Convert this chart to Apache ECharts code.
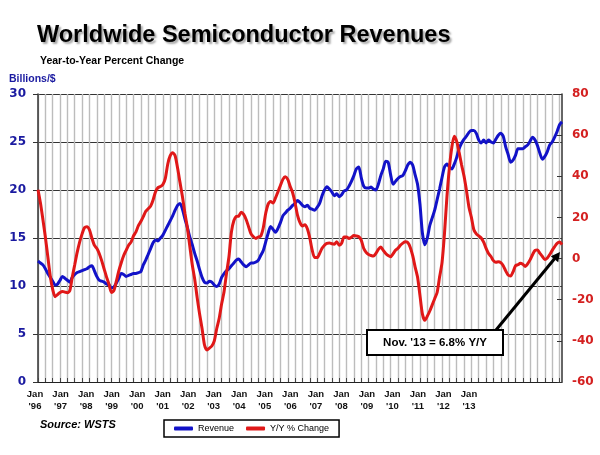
<!DOCTYPE html>
<html>
<head>
<meta charset="utf-8">
<script src="https://cdn.jsdelivr.net/npm/echarts@6/dist/echarts.min.js"></script>
<style>
html,body{margin:0;padding:0;background:#fff;}
#c{width:600px;height:455px;}
</style>
</head>
<body>
<div id="c"></div>
<script>
// ---- DATA ----
var startYear = 1996;
var monthCount = 215; // Jan '96 .. Nov '13
var labelYears = ["'96","'97","'98","'99","'00","'01","'02","'03","'04","'05","'06","'07","'08","'09","'10","'11","'12","'13"];

var revenue = [
12.6,12.4,12.2,11.8,11.3,10.9,10.5,10.1,10.2,10.6,11.0,10.8,
10.6,10.4,10.9,11.2,11.4,11.5,11.6,11.7,11.8,12.0,12.1,11.6,
11.0,10.6,10.5,10.4,10.2,10.1,9.8,9.9,10.3,10.8,11.3,11.2,
11.0,11.1,11.2,11.3,11.3,11.4,11.5,12.2,12.7,13.3,13.9,14.5,
14.8,14.7,15.0,15.3,15.8,16.3,16.8,17.3,17.9,18.4,18.6,18.0,
17.0,16.1,15.1,14.3,13.4,12.6,11.7,10.9,10.4,10.3,10.5,10.4,
10.1,9.95,10.2,10.9,11.3,11.6,11.8,12.1,12.4,12.7,12.8,12.5,
12.2,12.0,12.2,12.4,12.4,12.5,12.7,13.2,13.7,14.6,15.5,16.2,
15.9,15.6,16.0,16.6,17.3,17.6,17.9,18.1,18.4,18.6,18.9,18.7,
18.4,18.25,18.4,18.1,18.0,17.9,18.2,18.6,19.4,20.0,20.35,20.1,
19.8,19.4,19.6,19.3,19.5,19.9,20.0,20.4,20.9,21.5,22.2,22.4,
21.3,20.4,20.2,20.2,20.3,20.1,20.0,20.6,21.5,22.2,23.0,22.9,
21.6,20.6,20.9,21.2,21.4,21.5,22.0,22.6,22.9,22.6,21.6,20.6,
18.5,15.5,14.3,15.0,16.3,17.1,17.9,19.0,20.1,21.3,22.4,22.7,
22.4,22.2,22.7,23.4,24.3,24.9,25.3,25.6,26.0,26.2,26.2,25.9,
25.2,24.9,25.2,24.9,25.2,25.0,24.9,25.3,25.7,25.9,25.6,24.5,
23.7,22.9,23.1,23.6,24.3,24.3,24.3,24.5,24.7,25.1,25.5,25.2,
24.6,23.8,23.2,23.5,24.0,24.7,25.0,25.5,26.1,26.8,27.1
];

var yoyChange = [
33.5,27,19,10.5,1,-8.5,-15,-18.5,-17.5,-16.5,-16,-16.3,
-16.6,-15.5,-9,-3,3,8,12,15,15.5,14,10,6.5,
5,2.5,-1,-5,-9,-12.5,-16.5,-15.5,-11,-6,-2,1.5,
4,6.5,8,11,13,16,18,20.4,23,24.2,25.5,28.5,
32.5,34.5,35,36,39,46,50,51.5,50,44,37,30,
22,15,6,-3,-10,-19,-27,-34,-42,-44.4,-43.5,-42.5,
-40,-34,-29,-22,-16,-7,1,13,18.5,20.5,20.7,22.5,
21.5,19,15.5,12,10.6,9.8,10.5,11,15,22,26.5,27.7,
27,29.5,32.5,35.5,38.5,39.8,38.5,35,32,27,21,17.5,
15.8,16.5,14.5,10,4,0.5,0.5,2.5,5,6.5,7.4,7.6,
7.2,7,8.2,6.5,7.5,10.5,10.5,9.8,10.4,11.2,11,10.6,
9.0,5,3,2,1.5,1.2,2.5,4.5,5.6,4,2.5,1.5,
0.9,2.3,4,5,6.5,7.5,8.2,7.8,5.5,1.5,-4,-9,
-18,-27,-30,-28,-25.5,-22.5,-19.5,-16.5,-9,-2,12,30,
44,54,59.5,57,51.5,45.5,40,33,25,20,14,12,
11,10,8,5,2.5,1,-1,-1.8,-1.5,-2,-3.5,-6,
-8,-8.5,-6.5,-3.5,-3,-2.3,-2.8,-3.8,-2.5,-0.5,2,4,
4.2,2.5,1,-0.5,0.3,2,4,5.8,7.4,8.0,6.8
];

var months = [];
for (var i = 0; i < monthCount; i++) {
  var y = startYear + Math.floor(i / 12), m = (i % 12) + 1;
  months.push(y + '-' + (m < 10 ? '0' + m : m));
}

// ---- CHART ----
var BLUE = '#1212c8', RED = '#e01818';
var chart = echarts.init(document.getElementById('c'), null, {renderer: 'canvas'});
var tickFont = {fontFamily: 'DejaVu Sans', fontWeight: 'bold', fontSize: 12};

var option = {
  backgroundColor: '#ffffff',
  animation: false,
  title: [
    {text: 'Worldwide Semiconductor Revenues', left: 32, top: 19,
     textStyle: {fontFamily: 'Liberation Sans', fontWeight: 'bold', fontSize: 23.5, color: '#000',
       textShadowColor: 'rgba(0,0,0,0.35)', textShadowOffsetX: 2, textShadowOffsetY: 2, textShadowBlur: 2}},
    {text: 'Year-to-Year Percent Change', left: 35, top: 51,
     textStyle: {fontFamily: 'Liberation Sans', fontWeight: 'bold', fontSize: 10.5, color: '#000'}},
    {text: 'Billions/$', left: 4, top: 69,
     textStyle: {fontFamily: 'Liberation Sans', fontWeight: 'bold', fontSize: 10.5, color: '#1a1aa0'}},
    {text: 'Source: WSTS', left: 35, top: 414,
     textStyle: {fontFamily: 'Liberation Sans', fontWeight: 'bold', fontStyle: 'italic', fontSize: 11, color: '#000'}}
  ],
  legend: {
    left: 164, top: 420, orient: 'horizontal',
    borderColor: '#000', borderWidth: 1.5, padding: [4, 10], itemGap: 12,
    itemWidth: 19, itemHeight: 4, icon: 'roundRect',
    textStyle: {fontFamily: 'Liberation Sans', fontSize: 9, color: '#000'},
    data: ['Revenue', 'Y/Y % Change']
  },
  grid: [
    {left: 38, right: 38, top: 94, bottom: 73},
    {left: 35, width: 510.6, top: 94, bottom: 73}
  ],
  xAxis: [
    {type: 'category', gridIndex: 0, data: months, boundaryGap: false,
     axisLine: {show: true, lineStyle: {color: '#222', width: 1}},
     axisTick: {show: true, inside: true, length: 4, interval: 2, lineStyle: {color: '#444'}},
     axisLabel: {show: false},
     splitLine: {show: true, interval: 2, lineStyle: {color: '#bcbcbc', width: 1.4}}},
    {type: 'value', gridIndex: 1, min: 0, max: 20, interval: 1,
     axisLine: {show: false}, axisTick: {show: false}, splitLine: {show: false},
     axisLabel: {show: true, margin: 6, color: '#111', fontFamily: "'Liberation Sans Narrow', 'Liberation Sans'", fontWeight: 'bold',
       fontSize: 9.5, lineHeight: 12,
       formatter: function (v) { return (v <= 17 && v === Math.round(v)) ? 'Jan\n' + labelYears[v] : ''; }}}
  ],
  yAxis: [
    {type: 'value', gridIndex: 0, min: 0, max: 30, interval: 5, position: 'left',
     axisLine: {show: true, lineStyle: {color: '#333', width: 1.5}},
     axisTick: {show: true, inside: false, length: 5, lineStyle: {color: '#333'}},
     axisLabel: Object.assign({color: '#1a1aa0', margin: 12}, tickFont),
     splitLine: {show: true, lineStyle: {color: '#333', width: 1}}},
    {type: 'value', gridIndex: 0, min: -60, max: 80, interval: 20, position: 'right',
     axisLine: {show: true, lineStyle: {color: '#333', width: 1.5}},
     axisTick: {show: true, inside: true, length: 5, lineStyle: {color: '#333'}},
     axisLabel: Object.assign({color: '#d42020', margin: 10}, tickFont),
     splitLine: {show: false}},
    {type: 'value', gridIndex: 1, show: false, min: 0, max: 1}
  ],
  series: [
    {name: 'Revenue', type: 'line', xAxisIndex: 0, yAxisIndex: 0, data: revenue,
     showSymbol: false, smooth: 0.25, color: BLUE, lineStyle: {width: 3, color: BLUE}, z: 3},
    {name: 'Y/Y % Change', type: 'line', xAxisIndex: 0, yAxisIndex: 1, data: yoyChange,
     showSymbol: false, smooth: 0.25, color: RED, lineStyle: {width: 3, color: RED}, z: 4}
  ],
  graphic: [
    {type: 'line', z: 100, shape: {x1: 496, y1: 330, x2: 554.5, y2: 258.8},
     style: {stroke: '#000', lineWidth: 3}},
    {type: 'polygon', z: 100, shape: {points: [[560, 252], [558.2, 262.2], [550.8, 256.2]]},
     style: {fill: '#000'}},
    {type: 'rect', z: 101, shape: {x: 367, y: 330, width: 136, height: 25},
     style: {fill: '#fff', stroke: '#000', lineWidth: 2}},
    {type: 'text', z: 102, x: 435, y: 342.5,
     style: {text: "Nov. '13 = 6.8% Y/Y", fill: '#000', font: 'bold 11.5px "Liberation Sans"',
       textAlign: 'center', textVerticalAlign: 'middle'}}
  ]
};
chart.setOption(option);
</script>
</body>
</html>
